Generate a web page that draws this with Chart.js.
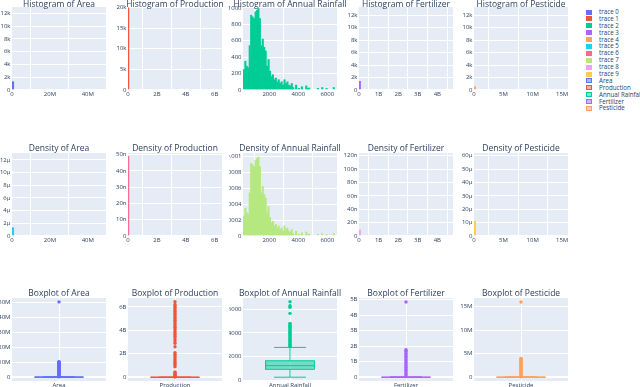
<!DOCTYPE html>
<html>
<head>
<meta charset="utf-8">
<script src="https://cdn.jsdelivr.net/npm/chart.js@4.4.0/dist/chart.umd.min.js"></script>
<style>
  body { margin: 0; width: 640px; height: 387px; background: #fff; position: relative; overflow: hidden; font-family: "Open Sans", sans-serif; }
  canvas { position: absolute; }
  .ttl { position: absolute; color: #2a3f5f; font-size: 8.5px; line-height: 1; white-space: nowrap; transform: translate(-50%, -50%); }
  #legend { position: absolute; left: 586px; top: 9px; font-size: 6.2px; color: #2a3f5f; }
  #legend div { height: 6.9px; line-height: 6.9px; white-space: nowrap; }
  #legend span { display: inline-block; width: 6px; height: 5px; margin-right: 7px; vertical-align: -0.5px; box-sizing: border-box; }
</style>
</head>
<body>
<div id="legend"></div>
<script>
// ---- histogram row (counts) ----
const areaHistX = [0.4e6];
const areaHistY = [1300];
const prodHistX = [0.02e9];
const prodHistY = [19900];
const fertHistX = [0.03e9];
const fertHistY = [1400];
const pestHistX = [0.1e6];
const pestHistY = [500];

// annual rainfall bins (bin centres, width 100)
const rainBins = [250, 350, 450, 550, 650, 750, 850, 950, 1050, 1150,
  1250, 1350, 1450, 1550, 1650, 1750, 1850, 1950, 2050, 2150,
  2250, 2350, 2450, 2550, 2650, 2750, 2850, 2950, 3050, 3150,
  3250, 3350, 3450, 3550, 3650, 3850, 4050, 4250, 4550, 4650,
  4750, 5350, 5650, 5950, 6450];
const rainCounts = [250, 350, 290, 270, 540, 910, 890, 870, 950, 970,
  990, 870, 540, 620, 520, 475, 290, 370, 230, 165,
  185, 125, 145, 100, 125, 80, 100, 60, 125, 80,
  100, 60, 50, 80, 30, 60, 20, 40, 50, 20,
  25, 20, 30, 20, 30];
const rainDensity = [2.5e-4, 3.5e-4, 2.9e-4, 2.7e-4, 5.4e-4, 9.1e-4, 8.9e-4, 8.7e-4, 9.5e-4, 9.7e-4,
  9.9e-4, 8.7e-4, 5.4e-4, 6.2e-4, 5.2e-4, 4.75e-4, 2.9e-4, 3.7e-4, 2.3e-4, 1.65e-4,
  1.85e-4, 1.25e-4, 1.45e-4, 1.0e-4, 1.25e-4, 8e-5, 1.0e-4, 6e-5, 1.25e-4, 8e-5,
  1.0e-4, 6e-5, 5e-5, 8e-5, 3e-5, 6e-5, 2e-5, 4e-5, 5e-5, 2e-5,
  2.5e-5, 2e-5, 3e-5, 2e-5, 3e-5];

// ---- density row ----
const areaDensX = [0.4e6];
const areaDensY = [1.3e-6];
const prodDensX = [0.02e9];
const prodDensY = [49e-9];
const fertDensX = [0.03e9];
const fertDensY = [9e-9];
const pestDensX = [0.1e6];
const pestDensY = [11e-6];

// ---- boxplots: q1, median, q3, whisker ends, outliers ----
const areaBox = { lo: 0, q1: 1000, med: 7000, q3: 40000, hi: 100000 };
const areaOut = [0.2e6, 0.4e6, 0.7e6, 1.0e6, 1.4e6, 1.8e6, 2.2e6, 2.6e6, 3.0e6, 3.4e6, 3.8e6, 4.2e6,
  4.6e6, 5.0e6, 5.4e6, 5.8e6, 6.2e6, 6.6e6, 7.0e6, 7.4e6, 7.8e6, 8.2e6, 8.6e6, 9.0e6, 9.4e6,
  9.7e6, 9.9e6, 10.1e6, 10.3e6, 50.4e6];
const prodBox = { lo: 0, q1: 1000, med: 15000, q3: 120000, hi: 300000 };
const prodOut = [0.02e9, 0.08e9, 0.15e9, 0.22e9, 0.3e9, 0.38e9, 0.45e9, 0.9e9, 1.05e9, 1.2e9, 1.35e9,
  1.5e9, 1.65e9, 1.8e9, 1.95e9, 2.1e9, 2.6e9, 2.9e9, 3.1e9, 3.3e9, 3.5e9, 3.65e9, 3.8e9, 3.95e9,
  4.1e9, 4.25e9, 4.4e9, 4.55e9, 4.7e9, 4.85e9, 5.0e9, 5.15e9, 5.3e9, 5.45e9, 5.6e9, 5.75e9,
  5.9e9, 6.05e9, 6.2e9, 6.43e9];
const rainBox = { lo: 280, q1: 940, med: 1250, q3: 1660, hi: 2780 };
const rainOut = [2850, 2950, 3050, 3150, 3250, 3350, 3450, 3550, 3650, 3750, 3850, 3950, 4050,
  4150, 4250, 4350, 4450, 4550, 4650, 4750, 4800, 5640, 6150, 6280, 6610];
const fertBox = { lo: 0, q1: 0.1e6, med: 1.5e6, q3: 10e6, hi: 25e6 };
const fertOut = [0.05e9, 0.15e9, 0.25e9, 0.35e9, 0.45e9, 0.55e9, 0.65e9, 0.75e9, 0.85e9, 0.95e9,
  1.05e9, 1.15e9, 1.25e9, 1.35e9, 1.45e9, 1.55e9, 1.65e9, 1.72e9, 1.77e9, 4.84e9];
const pestBox = { lo: 0, q1: 300, med: 5000, q3: 30000, hi: 80000 };
const pestOut = [0.1e6, 0.3e6, 0.5e6, 0.7e6, 0.9e6, 1.1e6, 1.3e6, 1.5e6, 1.7e6, 1.9e6, 2.1e6,
  2.3e6, 2.5e6, 2.7e6, 2.9e6, 3.1e6, 3.3e6, 3.5e6, 3.7e6, 3.85e6, 4.0e6, 15.95e6];

// ---- axis ticks ----
const areaXTicks = [0, 20e6, 40e6];
const prodXTicks = [0, 2e9, 4e9, 6e9];
const rainXTicks = [2000, 4000, 6000];
const fertXTicks = [0, 1e9, 2e9, 3e9, 4e9];
const pestXTicks = [0, 5e6, 10e6, 15e6];
const areaHistTicks = [0, 2000, 4000, 6000, 8000, 10000, 12000];
const prodHistTicks = [0, 5000, 10000, 15000, 20000];
const rainHistTicks = [0, 200, 400, 600, 800, 1000];
const fertHistTicks = [0, 2000, 4000, 6000, 8000, 10000, 12000];
const pestHistTicks = [0, 2000, 4000, 6000, 8000, 10000, 12000];
const areaDensTicks = [0, 2e-6, 4e-6, 6e-6, 8e-6, 10e-6, 12e-6];
const prodDensTicks = [0, 10e-9, 20e-9, 30e-9, 40e-9, 50e-9];
const rainDensTicks = [0, 0.0002, 0.0004, 0.0006, 0.0008, 0.001];
const fertDensTicks = [0, 20e-9, 40e-9, 60e-9, 80e-9, 100e-9, 120e-9];
const pestDensTicks = [0, 10e-6, 20e-6, 30e-6, 40e-6, 50e-6, 60e-6];
const areaBoxTicks = [0, 10e6, 20e6, 30e6, 40e6, 50e6];
const prodBoxTicks = [0, 2e9, 4e9, 6e9];
const rainBoxTicks = [0, 2000, 4000, 6000];
const fertBoxTicks = [0, 1e9, 2e9, 3e9, 4e9, 5e9];
const pestBoxTicks = [0, 5e6, 10e6, 15e6];

const legendNames = ['trace 0', 'trace 1', 'trace 2', 'trace 3', 'trace 4', 'trace 5', 'trace 6', 'trace 7', 'trace 8', 'trace 9'];
const boxNames = ['Area', 'Production', 'Annual Rainfall', 'Fertilizer', 'Pesticide'];
const colors = ['#636efa', '#EF553B', '#00cc96', '#ab63fa', '#FFA15A', '#19d3f3', '#FF6692', '#B6E880', '#FF97FF', '#FECB52'];

// layout
const FONT = '"Open Sans", sans-serif';
const INK = '#2a3f5f';
const colLeft = [12, 128, 243, 359, 474];
const colYW = [12, 24, 14, 24, 24]; // room left of each plot for y labels (clips like the original)
const rowTop = [7, 153, 298];
const titleY = [3.5, 148, 293];
const plotW = 94, plotH = 83;
const PT = 6, PR = 10, XH = 12;
const BOX_HALF = 0.26, CAP_HALF = 0.17;

function si(v) {
  if (v === 0) return '0';
  const units = [[1e9, 'B'], [1e6, 'M'], [1e3, 'k'], [1, ''], [1e-3, 'm'], [1e-6, 'µ'], [1e-9, 'n'], [1e-12, 'p']];
  for (const [f, u] of units) {
    if (Math.abs(v) >= f * 0.999) return +(v / f).toFixed(3) + u;
  }
  return String(v);
}
const plain = v => String(+v.toFixed(6));

function alpha(hex, a) {
  const n = parseInt(hex.slice(1), 16);
  return `rgba(${n >> 16},${(n >> 8) & 255},${n & 255},${a})`;
}

const bgPlugin = {
  id: 'plotbg',
  beforeDraw(chart) {
    const { ctx, chartArea: a } = chart;
    ctx.save();
    ctx.fillStyle = '#E5ECF6';
    ctx.fillRect(a.left, a.top, a.right - a.left, a.bottom - a.top);
    ctx.restore();
  }
};

function axis(dir, a, yw) {
  return {
    type: 'linear',
    min: a.min,
    max: a.max,
    offset: false,
    afterBuildTicks: s => { s.ticks = a.ticks.map(v => ({ value: v })); },
    afterFit: s => { if (dir === 'x') s.height = XH; else s.width = yw; },
    ticks: {
      autoSkip: false, maxRotation: 0, padding: dir === 'x' ? 1 : 1.5,
      color: INK, font: { family: FONT, size: 6 },
      callback: v => (a.label ? a.label : (a.fmt || si)(v))
    },
    grid: {
      color: '#fff', drawTicks: false,
      lineWidth: ctx => (a.zero && ctx.tick && ctx.tick.value === 0 ? 2 : 1)
    },
    border: { display: false }
  };
}

function panel(col, row, title, type, datasets, xa, ya) {
  const L = colLeft[col], T = rowTop[row];
  const yw = colYW[col];
  const w = plotW + yw + PR, h = plotH + PT + XH;
  const c = document.createElement('canvas');
  c.width = w; c.height = h;
  c.style.left = (L - yw) + 'px'; c.style.top = (T - PT) + 'px';
  c.style.width = w + 'px'; c.style.height = h + 'px';
  document.body.appendChild(c);
  const t = document.createElement('div');
  t.className = 'ttl';
  t.textContent = title;
  t.style.left = (L + plotW / 2) + 'px';
  t.style.top = titleY[row] + 'px';
  document.body.appendChild(t);
  new Chart(c, {
    type,
    data: { datasets },
    options: {
      responsive: false, animation: false, devicePixelRatio: 1,
      layout: { padding: { top: PT, right: PR, left: 0, bottom: 0 } },
      plugins: { legend: { display: false }, tooltip: { enabled: false } },
      scales: { x: axis('x', xa, yw), y: axis('y', ya, yw) }
    },
    plugins: [bgPlugin]
  });
}

function bars(xs, ys, color, thick) {
  const ds = {
    data: xs.map((x, i) => ({ x, y: ys[i] })),
    backgroundColor: color, borderWidth: 0, grouped: false,
    barPercentage: 1, categoryPercentage: 1
  };
  if (thick) ds.barThickness = thick;
  return [ds];
}

function boxSets(s, out, color) {
  const line = (pts, extra) => Object.assign({
    data: pts, showLine: true, borderColor: color, borderWidth: 1, pointRadius: 0, fill: false
  }, extra || {});
  return [
    { data: out.map(v => ({ x: 0, y: v })), pointRadius: 1.7, pointBackgroundColor: color, pointBorderWidth: 0 },
    line([{ x: -BOX_HALF, y: s.med }, { x: BOX_HALF, y: s.med }]),
    line([{ x: -BOX_HALF, y: s.q1 }, { x: BOX_HALF, y: s.q1 }, { x: BOX_HALF, y: s.q3 }, { x: -BOX_HALF, y: s.q3 }, { x: -BOX_HALF, y: s.q1 }],
      { fill: 'shape', backgroundColor: alpha(color, 0.5) }),
    line([{ x: 0, y: s.q3 }, { x: 0, y: s.hi }]),
    line([{ x: 0, y: s.lo }, { x: 0, y: s.q1 }]),
    line([{ x: -CAP_HALF, y: s.hi }, { x: CAP_HALF, y: s.hi }]),
    line([{ x: -CAP_HALF, y: s.lo }, { x: CAP_HALF, y: s.lo }])
  ];
}

// row 1: histograms
panel(0, 0, 'Histogram of Area', 'bar', bars(areaHistX, areaHistY, colors[0], 2),
  { min: 0, max: 49.6e6, ticks: areaXTicks, zero: true }, { min: 0, max: 13000, ticks: areaHistTicks, zero: true });
panel(1, 0, 'Histogram of Production', 'bar', bars(prodHistX, prodHistY, colors[1], 1.2),
  { min: 0, max: 6.5e9, ticks: prodXTicks, zero: true }, { min: 0, max: 20100, ticks: prodHistTicks, zero: true });
panel(2, 0, 'Histogram of Annual Rainfall', 'bar', bars(rainBins, rainCounts, colors[2]),
  { min: 186, max: 6670, ticks: rainXTicks, fmt: plain }, { min: 0, max: 1010, ticks: rainHistTicks, fmt: plain, zero: true });
panel(3, 0, 'Histogram of Fertilizer', 'bar', bars(fertHistX, fertHistY, colors[3], 2),
  { min: 0, max: 4.8e9, ticks: fertXTicks, zero: true }, { min: 0, max: 13300, ticks: fertHistTicks, zero: true });
panel(4, 0, 'Histogram of Pesticide', 'bar', bars(pestHistX, pestHistY, colors[4], 2),
  { min: 0, max: 16e6, ticks: pestXTicks, zero: true }, { min: 0, max: 13300, ticks: pestHistTicks, zero: true });

// row 2: densities
panel(0, 1, 'Density of Area', 'bar', bars(areaDensX, areaDensY, colors[5], 2),
  { min: 0, max: 49.6e6, ticks: areaXTicks, zero: true }, { min: 0, max: 13.1e-6, ticks: areaDensTicks, zero: true });
panel(1, 1, 'Density of Production', 'bar', bars(prodDensX, prodDensY, colors[6], 1.2),
  { min: 0, max: 6.5e9, ticks: prodXTicks, zero: true }, { min: 0, max: 51e-9, ticks: prodDensTicks, zero: true });
panel(2, 1, 'Density of Annual Rainfall', 'bar', bars(rainBins, rainDensity, colors[7]),
  { min: 186, max: 6670, ticks: rainXTicks, fmt: plain }, { min: 0, max: 0.00104, ticks: rainDensTicks, fmt: plain, zero: true });
panel(3, 1, 'Density of Fertilizer', 'bar', bars(fertDensX, fertDensY, colors[8], 2),
  { min: 0, max: 4.8e9, ticks: fertXTicks, zero: true }, { min: 0, max: 124e-9, ticks: fertDensTicks, zero: true });
panel(4, 1, 'Density of Pesticide', 'bar', bars(pestDensX, pestDensY, colors[9], 2),
  { min: 0, max: 16e6, ticks: pestXTicks, zero: true }, { min: 0, max: 62e-6, ticks: pestDensTicks, zero: true });

// row 3: boxplots
const boxX = name => ({ min: -0.5, max: 0.5, ticks: [0], label: name });
panel(0, 2, 'Boxplot of Area', 'scatter', boxSets(areaBox, areaOut, colors[0]),
  boxX(boxNames[0]), { min: -2.6e6, max: 53e6, ticks: areaBoxTicks, zero: true });
panel(1, 2, 'Boxplot of Production', 'scatter', boxSets(prodBox, prodOut, colors[1]),
  boxX(boxNames[1]), { min: -0.32e9, max: 6.75e9, ticks: prodBoxTicks, zero: true });
panel(2, 2, 'Boxplot of Annual Rainfall', 'scatter', boxSets(rainBox, rainOut, colors[2]),
  boxX(boxNames[2]), { min: -40, max: 6930, ticks: rainBoxTicks, fmt: plain, zero: true });
panel(3, 2, 'Boxplot of Fertilizer', 'scatter', boxSets(fertBox, fertOut, colors[3]),
  boxX(boxNames[3]), { min: -0.24e9, max: 5.1e9, ticks: fertBoxTicks, zero: true });
panel(4, 2, 'Boxplot of Pesticide', 'scatter', boxSets(pestBox, pestOut, colors[4]),
  boxX(boxNames[4]), { min: -0.8e6, max: 16.8e6, ticks: pestBoxTicks, zero: true });

// legend
const lg = document.getElementById('legend');
legendNames.forEach((n, i) => {
  const d = document.createElement('div');
  d.innerHTML = `<span style="background:${colors[i]}"></span>${n}`;
  lg.appendChild(d);
});
boxNames.forEach((n, i) => {
  const d = document.createElement('div');
  d.innerHTML = `<span style="background:${alpha(colors[i], 0.5)};border:1px solid ${colors[i]}"></span>${n}`;
  lg.appendChild(d);
});
</script>
</body>
</html>
